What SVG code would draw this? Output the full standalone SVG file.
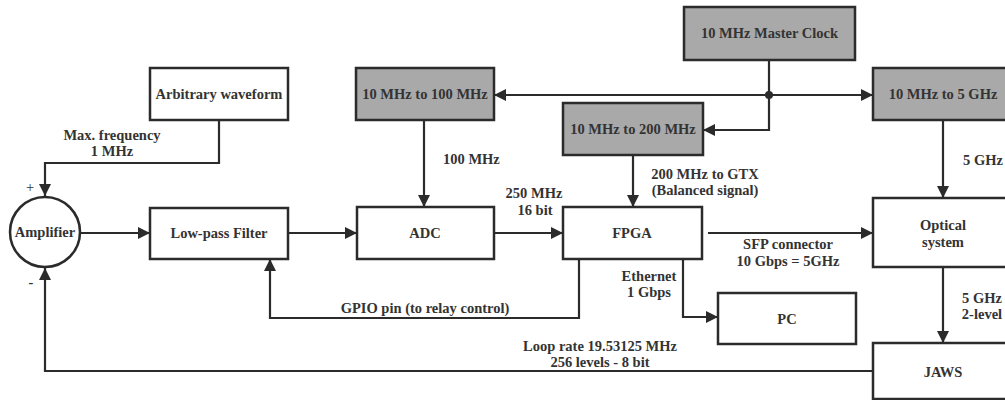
<svg xmlns="http://www.w3.org/2000/svg" width="1005" height="400" viewBox="0 0 1005 400">
<style>
.box{fill:#ffffff;stroke:#2b2b2b;stroke-width:2.5}
.gray{fill:#a9a9a9;stroke:#2b2b2b;stroke-width:2.5}
.t{font-family:"Liberation Serif","Times New Roman","DejaVu Serif",serif;font-weight:bold;font-size:14.5px;fill:#333333;text-anchor:middle}
.ts{text-anchor:start}
.c{fill:none;stroke:#2b2b2b;stroke-width:2.2}
</style>
<defs>
<marker id="ah" viewBox="0 0 12 12" refX="12" refY="6" markerWidth="12" markerHeight="12" markerUnits="userSpaceOnUse" orient="auto-start-reverse">
<path d="M0,0 L12,6 L0,12 Z" fill="#2b2b2b"/>
</marker>
</defs>
<rect width="1005" height="400" fill="#ffffff"/>

<g id="connectors">
<path class="c" d="M219,120 V163 H45 V196" marker-end="url(#ah)"/>
<path class="c" d="M80,233 H150" marker-end="url(#ah)"/>
<path class="c" d="M288,233 H357" marker-end="url(#ah)"/>
<path class="c" d="M494,233 H563" marker-end="url(#ah)"/>
<path class="c" d="M494,95 H873" marker-start="url(#ah)" marker-end="url(#ah)"/>
<path class="c" d="M769,60 V130 H703" marker-end="url(#ah)"/>
<circle cx="769" cy="95" r="4" fill="#2b2b2b"/>
<path class="c" d="M424,120 V207" marker-end="url(#ah)"/>
<path class="c" d="M633,155 V207" marker-end="url(#ah)"/>
<path class="c" d="M943,120 V198" marker-end="url(#ah)"/>
<path class="c" d="M708,233 H873" marker-end="url(#ah)"/>
<path class="c" d="M943,267 V343" marker-end="url(#ah)"/>
<path class="c" d="M579,259 V318 H270 V259" marker-end="url(#ah)"/>
<path class="c" d="M683,259 V317 H718" marker-end="url(#ah)"/>
<path class="c" d="M873,371 H45 V268" marker-end="url(#ah)"/>
<text class="t" x="112" y="140">Max. frequency</text>
<text class="t" x="112" y="156">1 MHz</text>
<text class="t" x="30" y="192" style="font-weight:normal;fill:#333333">+</text>
<text class="t" x="31" y="287">-</text>
<text class="t ts" x="443" y="164">100 MHz</text>
<text class="t" x="534" y="198">250 MHz</text>
<text class="t" x="535" y="215">16 bit</text>
<text class="t" x="705" y="179">200 MHz to GTX</text>
<text class="t" x="705" y="195">(Balanced signal)</text>
<text class="t" x="983" y="165">5 GHz</text>
<text class="t" x="788" y="249">SFP connector</text>
<text class="t" x="788" y="266">10 Gbps = 5GHz</text>
<text class="t" x="649" y="281">Ethernet</text>
<text class="t" x="649" y="297">1 Gbps</text>
<text class="t" x="425" y="313">GPIO pin (to relay control)</text>
<text class="t" x="600" y="351">Loop rate 19.53125 MHz</text>
<text class="t" x="600" y="367">256 levels - 8 bit</text>
<text class="t" x="982" y="303">5 GHz</text>
<text class="t" x="982" y="319">2-level</text>
</g>

<g id="arbitrary">
<rect class="box" x="150" y="68" width="138" height="52"/>
<text class="t" x="219" y="99">Arbitrary waveform</text>
</g>
<g id="mhz100">
<rect class="gray" x="356" y="68" width="138" height="52"/>
<text class="t" x="425" y="99">10 MHz to 100 MHz</text>
</g>
<g id="master">
<rect class="gray" x="684" y="7" width="171" height="53"/>
<text class="t" x="769.5" y="38">10 MHz Master Clock</text>
</g>
<g id="mhz200">
<rect class="gray" x="563" y="103" width="140" height="52"/>
<text class="t" x="633" y="134">10 MHz to 200 MHz</text>
</g>
<g id="ghz5">
<rect class="gray" x="873" y="68" width="140" height="52"/>
<text class="t" x="943" y="99">10 MHz to 5 GHz</text>
</g>
<g id="amplifier">
<circle class="box" cx="45" cy="232" r="35"/>
<text class="t" x="45" y="237">Amplifier</text>
</g>
<g id="lpf">
<rect class="box" x="150" y="208" width="138" height="51"/>
<text class="t" x="219" y="238">Low-pass Filter</text>
</g>
<g id="adc">
<rect class="box" x="357" y="207" width="137" height="52"/>
<text class="t" x="425" y="238">ADC</text>
</g>
<g id="fpga">
<rect class="box" x="563" y="207" width="139" height="52"/>
<text class="t" x="632" y="238">FPGA</text>
</g>
<g id="optical">
<rect class="box" x="873" y="198" width="140" height="69"/>
<text class="t" x="943" y="230">Optical</text>
<text class="t" x="943" y="247">system</text>
</g>
<g id="pc">
<rect class="box" x="718" y="293" width="138" height="51"/>
<text class="t" x="787" y="324">PC</text>
</g>
<g id="jaws">
<rect class="box" x="873" y="343" width="140" height="56"/>
<text class="t" x="943" y="377">JAWS</text>
</g>
</svg>
